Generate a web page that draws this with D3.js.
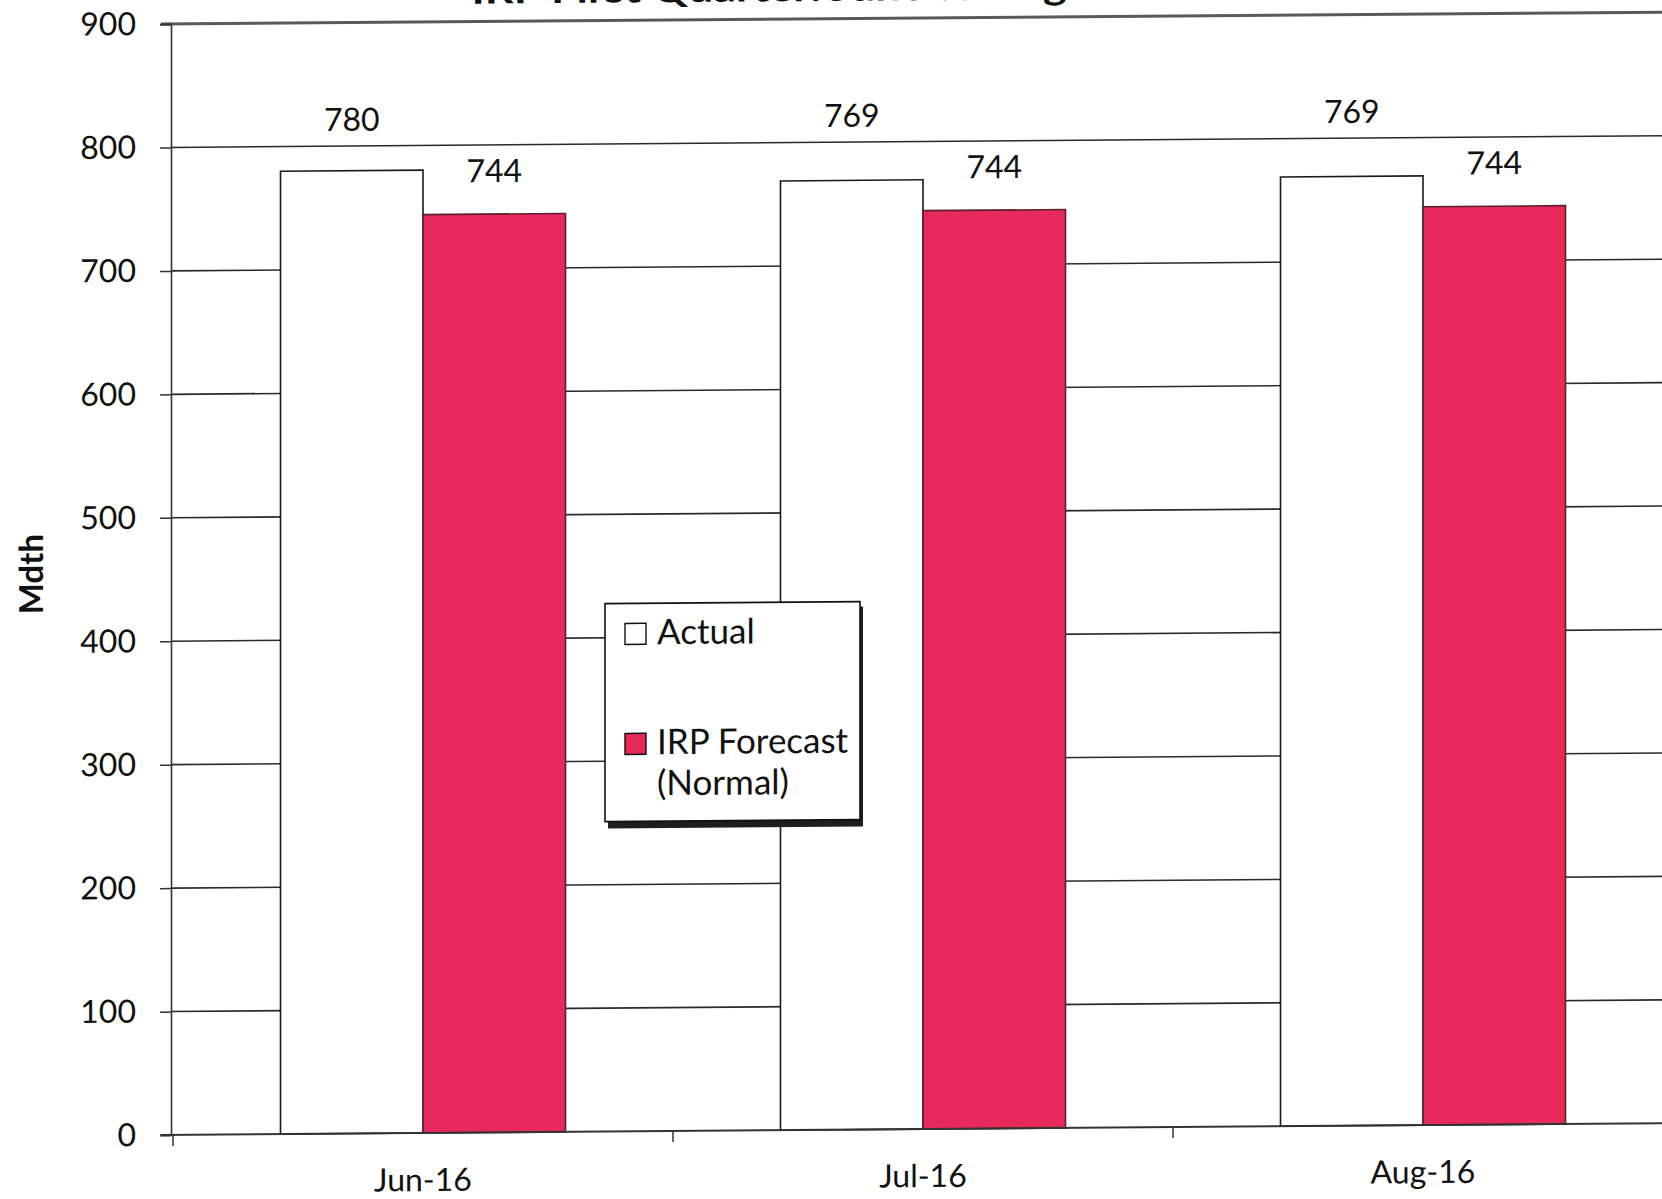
<!DOCTYPE html>
<html><head><meta charset="utf-8">
<script src="https://cdn.jsdelivr.net/npm/d3@7"></script>
<style>body{margin:0;background:#fff}svg{display:block}text{font-family:Lato,"Open Sans",sans-serif;fill:#111}</style>
</head><body>
<script>
const categories = ["Jun-16","Jul-16","Aug-16"];
const seriesNames = ["Actual","IRP Forecast (Normal)"];
const actual = [780, 769, 769];
const forecast = [744, 744, 744];
const yTicks = [0,100,200,300,400,500,600,700,800,900];
const title = "IRP First Quarter: June to August";
const yTitle = "Mdth";

(function(){
const W = 1662, H = 1199;
const svg = d3.select("body").append("svg").attr("width", W).attr("height", H);
svg.append("rect").attr("width", W).attr("height", H).attr("fill", "#fff");

const pLeft = 171, pRight = 1673, pTop = 24, pBottom = 1135;
const g = svg.append("g").attr("transform", `translate(${pLeft},${pBottom}) skewY(-0.45) translate(${-pLeft},${-pBottom})`);

const x0 = d3.scaleBand().domain(categories).range([173, 1673]).paddingInner(0.43).paddingOuter(0.215);
const x1 = d3.scaleBand().domain(seriesNames).range([0, x0.bandwidth()]).padding(0);
const y = d3.scaleLinear().domain([0, 900]).range([pBottom, pTop]);

// title (cut off at the top in the source)
g.append("text").attr("x", 800).attr("y", 6).attr("text-anchor", "middle")
  .attr("font-size", 36).attr("font-weight", "bold").attr("textLength", 657)
  .attr("lengthAdjust", "spacingAndGlyphs").text(title);

// gridlines
g.append("g").selectAll("line").data(yTicks.filter(t => t > 0 && t < 900)).join("line")
  .attr("x1", pLeft).attr("x2", pRight).attr("y1", d => y(d)).attr("y2", d => y(d))
  .attr("stroke", "#2a2a2a").attr("stroke-width", 1.6);
// top border
g.append("line").attr("x1", pLeft - 10).attr("x2", pRight).attr("y1", y(900)).attr("y2", y(900))
  .attr("stroke", "#5a5a5a").attr("stroke-width", 3);

// y axis
const yAxis = d3.axisLeft(y).tickValues(yTicks).tickSize(11).tickPadding(24);
const ya = g.append("g").attr("transform", `translate(${pLeft},0)`).call(yAxis);
ya.select(".domain").attr("stroke", "#333").attr("stroke-width", 1.6);
ya.selectAll(".tick line").attr("stroke", "#333").attr("stroke-width", 1.5);
ya.selectAll(".tick text").attr("font-size", 32).attr("font-family", "Lato").attr("fill", "#111");

// bars
const data = categories.map((c, i) => ({c, vals: [{s: seriesNames[0], v: actual[i]}, {s: seriesNames[1], v: forecast[i]}]}));
const groups = g.append("g").selectAll("g").data(data).join("g")
  .attr("transform", d => `translate(${x0(d.c)},0)`);
groups.selectAll("rect").data(d => d.vals).join("rect")
  .attr("x", d => x1(d.s)).attr("width", x1.bandwidth())
  .attr("y", d => y(d.v)).attr("height", d => y(0) - y(d.v))
  .attr("fill", d => d.s === seriesNames[0] ? "#ffffff" : "#e8295b")
  .attr("stroke", d => d.s === seriesNames[0] ? "#1a1a1a" : "#5a2030")
  .attr("stroke-width", 1.6);

// value labels
const actualLabelY = y(d3.max(actual)) - 40;
groups.selectAll("text.val").data(d => d.vals).join("text").attr("class", "val")
  .attr("x", d => x1(d.s) + x1.bandwidth() / 2)
  .attr("y", d => d.s === seriesNames[0] ? actualLabelY : y(d.v) - 32)
  .attr("text-anchor", "middle").attr("font-size", 32).text(d => d.v);

// x axis
const xAxisScale = d3.scaleLinear().domain([0, 3]).range([173, 1673]);
g.append("line").attr("x1", pLeft - 10).attr("x2", pRight).attr("y1", y(0)).attr("y2", y(0))
  .attr("stroke", "#333").attr("stroke-width", 2);
g.append("g").selectAll("line").data([0, 1, 2, 3]).join("line")
  .attr("x1", d => xAxisScale(d)).attr("x2", d => xAxisScale(d))
  .attr("y1", y(0)).attr("y2", y(0) + 11).attr("stroke", "#333").attr("stroke-width", 1.5);
g.append("g").selectAll("text").data(categories).join("text")
  .attr("x", d => x0(d) + x0.bandwidth() / 2).attr("y", y(0) + 58)
  .attr("text-anchor", "middle").attr("font-size", 32).text(d => d);

// y title
g.append("text").attr("transform", `translate(43,573) rotate(-90)`)
  .attr("text-anchor", "middle").attr("font-size", 33).attr("font-weight", "bold").text(yTitle);

// legend
const lg = g.append("g").attr("transform", "translate(605,607)");
lg.append("rect").attr("x", 3).attr("y", 5).attr("width", 255).attr("height", 220).attr("fill", "#1e1e1e");
lg.append("rect").attr("x", 0).attr("y", 0).attr("width", 255).attr("height", 218)
  .attr("fill", "#fff").attr("stroke", "#111").attr("stroke-width", 1.6);
lg.append("rect").attr("x", 20).attr("y", 20).attr("width", 21).attr("height", 21)
  .attr("fill", "#fff").attr("stroke", "#111").attr("stroke-width", 1.4);
lg.append("text").attr("x", 52).attr("y", 41).attr("font-size", 35).text(seriesNames[0]);
lg.append("rect").attr("x", 20).attr("y", 130).attr("width", 21).attr("height", 21)
  .attr("fill", "#e8295b").attr("stroke", "#111").attr("stroke-width", 1.4);
lg.append("text").attr("x", 52).attr("y", 151).attr("font-size", 35).text("IRP Forecast");
lg.append("text").attr("x", 52).attr("y", 192).attr("font-size", 35).text("(Normal)");
})();
</script>
</body></html>
